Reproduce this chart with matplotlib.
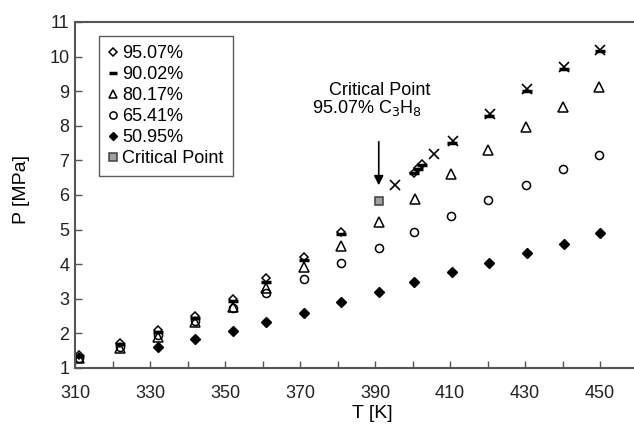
import numpy as np
import matplotlib.pyplot as plt

plt.rcParams['font.family'] = ['Liberation Sans', 'DejaVu Sans']

# data (T in K, P in MPa)
t_9507 = [311, 322, 332, 342, 352, 361, 371, 381, 400.5, 401.5, 402.5]
p_9507 = [1.38, 1.73, 2.1, 2.5, 3.0, 3.59, 4.22, 4.94, 6.65, 6.78, 6.9]

t_9002 = [311, 322, 332, 342, 352, 361, 371, 381, 400.5, 401.5, 402.5, 410.5, 420.5, 430.5, 440.5, 450]
p_9002 = [1.35, 1.7, 2.05, 2.45, 2.93, 3.5, 4.12, 4.86, 6.63, 6.76, 6.88, 7.5, 8.28, 9.0, 9.65, 10.15]

t_8017 = [311, 322, 332, 342, 352, 361, 371, 381, 391, 400.7, 410.3, 420.2, 430.3, 440, 449.8]
p_8017 = [1.28, 1.57, 1.9, 2.34, 2.77, 3.3, 3.91, 4.53, 5.23, 5.88, 6.6, 7.3, 7.97, 8.53, 9.13]

t_6541 = [311, 322, 332, 342, 352, 361, 371, 381, 391, 400.4, 410.2, 420.2, 430.2, 440, 449.8]
p_6541 = [1.3, 1.6, 1.95, 2.35, 2.74, 3.16, 3.57, 4.03, 4.48, 4.94, 5.39, 5.86, 6.29, 6.74, 7.16]

t_5095 = [332, 342, 352, 361, 371, 381, 391, 400.5, 410.4, 420.5, 430.5, 440.3, 450]
p_5095 = [1.6, 1.83, 2.07, 2.34, 2.6, 2.92, 3.19, 3.5, 3.78, 4.04, 4.31, 4.58, 4.91]

# x markers (not in legend)
t_x = [395.3, 405.6, 410.8, 420.6, 430.6, 440.5, 450]
p_x = [6.3, 7.18, 7.56, 8.33, 9.05, 9.7, 10.2]

t_crit = [391]
p_crit = [5.83]

fig = plt.figure(figsize=(6.34, 4.33), dpi=100)
ax = fig.add_axes([75 / 634, 1 - 368 / 433, 600 / 634, 346 / 433])

ax.plot(t_x, p_x, 'x', color='black', ms=6.5, mew=1.2, ls='none')
ax.plot(t_9507, p_9507, 'D', mfc='white', mec='black', ms=4.2, mew=1.1, ls='none', label='95.07%')
ax.plot(t_9002, p_9002, '_', color='black', ms=7, mew=2.5, ls='none', label='90.02%')
ax.plot(t_8017, p_8017, '^', mfc='none', mec='black', ms=6.5, mew=1.1, ls='none', label='80.17%')
ax.plot(t_6541, p_6541, 'o', mfc='none', mec='black', ms=5.8, mew=1.1, ls='none', label='65.41%')
ax.plot(t_5095, p_5095, 'D', color='black', ms=5, ls='none', label='50.95%')
ax.plot(t_crit, p_crit, 's', mfc='#a0a0a0', mec='#404040', ms=6, mew=1.1, ls='none', label='Critical Point')

# arrow pointing to the critical point
ax.annotate('', xy=(391, 6.2), xytext=(391, 7.62),
            arrowprops=dict(arrowstyle='-|>', color='black', lw=1.2, mutation_scale=14))
ax.text(391.3, 8.89, 'Critical Point', ha='center', va='baseline', fontsize=13)
ax.text(387.8, 8.37, '95.07% C$_3$H$_8$', ha='center', va='baseline', fontsize=13)

ax.set_xlim(310, 470)
ax.set_ylim(1, 11)
ax.set_xticks(np.arange(310, 461, 10))
ax.set_xticklabels([str(v) if (v - 310) % 20 == 0 else '' for v in range(310, 461, 10)])
ax.set_yticks(np.arange(1, 12, 1))
ax.tick_params(direction='in', length=5, width=1, labelsize=13, colors='#555555',
               labelcolor='#222222')
ax.tick_params(axis='x', pad=12)
ax.tick_params(axis='y', pad=4)
for s in ax.spines.values():
    s.set_color('#555555')
    s.set_linewidth(1.5)

ax.set_xlabel('T [K]', fontsize=14)
ax.set_ylabel('P [MPa]', fontsize=14)
ax.xaxis.set_label_coords((372 - 75) / 600, -(414 - 368) / 346)
ax.xaxis.label.set_va('center')
ax.yaxis.set_label_coords(-(75 - 21) / 600, (368 - 190) / 346)
ax.yaxis.label.set_va('center')

leg = ax.legend(loc='upper left', bbox_to_anchor=((99 - 75) / 600, (368 - 36) / 346),
                fontsize=13, frameon=True, fancybox=False, handlelength=0.5,
                handletextpad=0.3, labelspacing=0.22, borderpad=0.5, borderaxespad=0,
                markerscale=0.9)
leg.get_frame().set_edgecolor('#333333')
leg.get_frame().set_linewidth(1.0)

fig.savefig('out.png', dpi=100)
